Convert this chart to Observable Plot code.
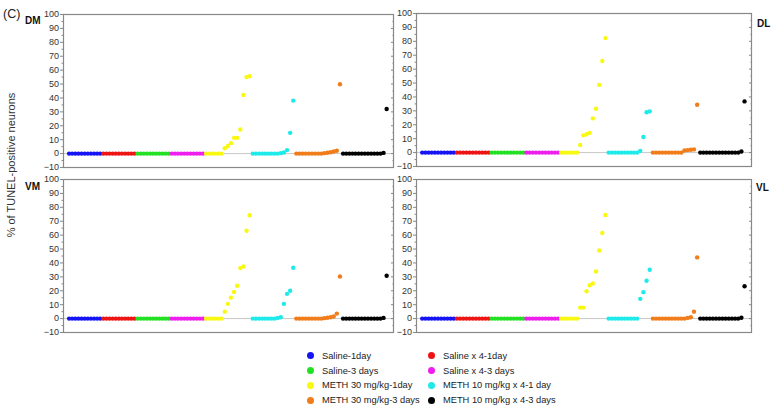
<!DOCTYPE html>
<html><head><meta charset="utf-8">
<script src="https://cdn.jsdelivr.net/npm/d3@7"></script>
<script src="https://cdn.jsdelivr.net/npm/@observablehq/plot@0.6"></script>
<style>
body{margin:0;background:#fff;}
#chart{position:relative;width:774px;height:410px;font-family:"Liberation Sans",Arial,sans-serif;color:#222;}
.abs{position:absolute;}
.plab{position:absolute;font-weight:bold;font-size:10px;line-height:10px;color:#111;}
.leg{position:absolute;left:306.5px;top:348.6px;display:grid;grid-template-columns:121px 170px;grid-auto-rows:14.7px;font-size:9.3px;color:#222;}
.leg div{display:flex;align-items:center;white-space:nowrap;}
.leg span.d{display:inline-block;width:7px;height:7px;border-radius:50%;margin-right:8.5px;}
</style></head><body><div id="chart"></div>
<script>
// Groups in x order (also legend order, row-major)
const groups = ["Saline-1day", "Saline x 4-1day", "Saline-3 days", "Saline x 4-3 days",
  "METH 30 mg/kg-1day", "METH 10 mg/kg x 4-1 day", "METH 30 mg/kg-3 days", "METH 10 mg/kg x 4-3 days"];
const colors = ["#1414f5", "#ee1414", "#22e022", "#ee1eee", "#f8f810", "#1eeaea", "#f07d1a", "#000000"];
const yMajor = [-10, 0, 10, 20, 30, 40, 50, 60, 70, 80, 90, 100];
const yMinor = [-5, 5, 15, 25, 35, 45, 55, 65, 75, 85, 95];

// % of TUNEL-positive neurons, per region, per group (sorted as plotted)
const dmValues = [
  [0,0,0,0,0,0,0,0,0,0,0],
  [0,0,0,0,0,0,0,0,0,0,0],
  [0,0,0,0,0,0,0,0,0,0,0],
  [0,0,0,0,0,0,0,0,0,0,0],
  [0,0,0,0,0,0,3.8,5.5,7.5,11.3,11.3,17.3,42.2,55,55.6],
  [0,0,0,0,0,0,0,0,0,0.3,0.8,2.5,14.9,38.1],
  [0,0,0,0,0,0,0,0,0,0.3,0.6,1,1.5,2,49.9],
  [0,0,0,0,0,0,0,0,0,0,0,0,0,0.5,32.1]
];
const dlValues = [
  [0,0,0,0,0,0,0,0,0,0,0],
  [0,0,0,0,0,0,0,0,0,0,0],
  [0,0,0,0,0,0,0,0,0,0,0],
  [0,0,0,0,0,0,0,0,0,0,0],
  [0,0,0,0,0,0,5.5,12.4,13.2,14.2,24.6,31.5,48.7,65.9,82.3],
  [0,0,0,0,0,0,0,0,0,0,1.2,11.2,29,29.6],
  [0,0,0,0,0,0,0,0,0,0,1.5,1.8,2,2.3,34.4],
  [0,0,0,0,0,0,0,0,0,0,0,0,0,0.8,36.8]
];
const vmValues = [
  [0,0,0,0,0,0,0,0,0,0,0],
  [0,0,0,0,0,0,0,0,0,0,0],
  [0,0,0,0,0,0,0,0,0,0,0],
  [0,0,0,0,0,0,0,0,0,0,0],
  [0,0,0,0,0,0,5,10.6,15.1,19.2,23.6,36.3,37.5,63.2,74.3],
  [0,0,0,0,0,0,0,0,0.5,1,10.6,17.8,20,36.5],
  [0,0,0,0,0,0,0,0,0,0.3,0.6,1,1.5,3.6,30.3],
  [0,0,0,0,0,0,0,0,0,0,0,0,0,0.5,30.8]
];
const vlValues = [
  [0,0,0,0,0,0,0,0,0,0,0],
  [0,0,0,0,0,0,0,0,0,0,0],
  [0,0,0,0,0,0,0,0,0,0,0],
  [0,0,0,0,0,0,0,0,0,0,0],
  [0,0,0,0,0,0,7.9,7.9,19.7,24,25.2,33.9,49,61.5,74.5],
  [0,0,0,0,0,0,0,0,0,0,14.2,19,27.2,35.1],
  [0,0,0,0,0,0,0,0,0,0,0,0.5,1,5,44],
  [0,0,0,0,0,0,0,0,0,0,0,0,0,0.6,23.3]
];

const ML = 41, MR = 3, MT = 6, MB = 4, FH = 153;
const panels = [
  {name: "DM", values: dmValues, left: 22, top: 8, fw: 330, lx: 25, ly: 16},
  {name: "DL", values: dlValues, left: 375, top: 7, fw: 335, lx: 757, ly: 19},
  {name: "VM", values: vmValues, left: 22, top: 173, fw: 330, lx: 25, ly: 182},
  {name: "VL", values: vlValues, left: 375, top: 173, fw: 335, lx: 756, ly: 183}
];

function makePanel(values, fw) {
  const rows = [];
  let i = 0;
  values.forEach((vals, g) => vals.forEach(v => rows.push({i: i++, v, g: groups[g]})));
  const blank = () => "";
  return Plot.plot({
    width: ML + fw + MR, height: MT + FH + MB,
    marginLeft: ML, marginRight: MR, marginTop: MT, marginBottom: MB,
    style: {fontSize: "9px", fontFamily: "'Liberation Sans', Arial, sans-serif", background: "transparent", overflow: "visible"},
    x: {domain: [-1.8, i - 1 + 2.2], axis: null},
    y: {domain: [-10, 100]},
    color: {domain: groups, range: colors},
    marks: [
      Plot.ruleY([0], {stroke: "#c8c8c8", strokeWidth: 1}),
      Plot.axisY({ticks: yMinor, tickSize: 1.5, tickFormat: blank, label: null, stroke: "#888"}),
      Plot.axisY({ticks: yMajor, tickSize: 3, tickPadding: 1.5, label: null, stroke: "#888", fill: "#333"}),
      Plot.axisY({anchor: "right", ticks: yMajor, tickSize: 3, dx: -3, tickFormat: blank, label: null, stroke: "#888"}),
      Plot.axisY({anchor: "right", ticks: yMinor, tickSize: 1.5, dx: -1.5, tickFormat: blank, label: null, stroke: "#888"}),
      Plot.frame({stroke: "#888", strokeWidth: 1.2}),
      Plot.dot(rows, {x: "i", y: "v", fill: "g", r: 2.2})
    ]
  });
}

const chart = d3.select("#chart");
panels.forEach(p => {
  const svg = makePanel(p.values, p.fw);
  chart.append("div").attr("class", "abs")
    .style("left", p.left + "px").style("top", p.top + "px")
    .node().appendChild(svg);
  chart.append("div").attr("class", "plab")
    .style("left", p.lx + "px").style("top", p.ly + "px").text(p.name);
});

chart.append("div").attr("class", "abs")
  .style("left", "3px").style("top", "7px").style("font-size", "12.5px").style("line-height", "14px")
  .text("(C)");

chart.append("div").attr("class", "abs")
  .style("left", "-89px").style("top", "158px").style("width", "200px").style("text-align", "center")
  .style("font-size", "11px").style("line-height", "14px").style("color", "#333")
  .style("transform", "rotate(-90deg)")
  .text("% of TUNEL-positive neurons");

const leg = chart.append("div").attr("class", "leg");
groups.forEach((g, k) => {
  const item = leg.append("div");
  item.append("span").attr("class", "d").style("background", colors[k]);
  item.append("span").text(g);
});
</script>
</body></html>
